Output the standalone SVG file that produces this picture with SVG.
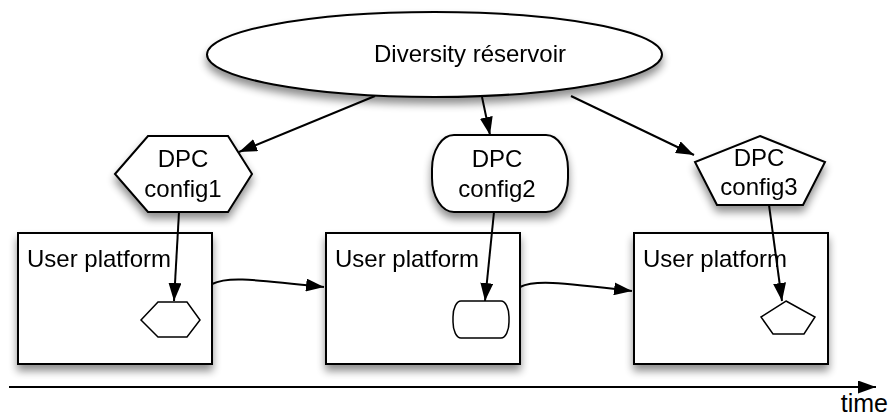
<svg xmlns="http://www.w3.org/2000/svg" width="893" height="419" viewBox="0 0 893 419">
<defs>
<filter id="sh" x="-20%" y="-20%" width="140%" height="150%">
<feGaussianBlur in="SourceAlpha" stdDeviation="4"/>
<feOffset dx="0" dy="6" result="b"/>
<feComponentTransfer><feFuncA type="linear" slope="0.45"/></feComponentTransfer>
<feMerge><feMergeNode/><feMergeNode in="SourceGraphic"/></feMerge>
</filter>
<marker id="ah" viewBox="0 0 18 13" refX="18" refY="6.5" markerWidth="9" markerHeight="6.5" markerUnits="strokeWidth" orient="auto">
<path d="M0,0 L18,6.5 L0,13 z" fill="#000"/>
</marker>
</defs>
<style>
.n{fill:#fff;stroke:#000;stroke-width:2}
.s{fill:#fff;stroke:#000;stroke-width:1.5}
.t{font-family:"Liberation Sans",Arial,sans-serif;font-size:24px;fill:#000}
.c{fill:none;stroke:#000;stroke-width:2;marker-end:url(#ah)}
</style>
<g id="reservoir" filter="url(#sh)">
<ellipse class="n" cx="434.5" cy="54.5" rx="227.5" ry="42.5"/>
<text class="t" x="470" y="62" text-anchor="middle">Diversity réservoir</text>
</g>
<g id="config1" filter="url(#sh)">
<polygon class="n" points="115,174 148,136 228,136 252,174 228,212 148,212"/>
<text class="t" x="183" y="167" text-anchor="middle">DPC</text>
<text class="t" x="183" y="197" text-anchor="middle">config1</text>
</g>
<g id="config2" filter="url(#sh)">
<rect class="n" x="432" y="135" width="136" height="77" rx="22" ry="34"/>
<text class="t" x="497" y="167" text-anchor="middle">DPC</text>
<text class="t" x="497" y="197" text-anchor="middle">config2</text>
</g>
<g id="config3" filter="url(#sh)">
<polygon class="n" points="760,136 825,162 803,205 717,205 695,162"/>
<text class="t" x="759" y="166" text-anchor="middle">DPC</text>
<text class="t" x="759" y="195" text-anchor="middle">config3</text>
</g>
<g id="platform1" filter="url(#sh)">
<rect class="n" x="18" y="233" width="194" height="131"/>
<text class="t" x="27" y="267">User platform</text>
</g>
<g id="platform2" filter="url(#sh)">
<rect class="n" x="326" y="233" width="194" height="131"/>
<text class="t" x="335" y="267">User platform</text>
</g>
<g id="platform3" filter="url(#sh)">
<rect class="n" x="634" y="233" width="194" height="131"/>
<text class="t" x="643" y="267">User platform</text>
</g>
<g id="small1">
<polygon class="s" points="141,320 158,302 187,302 200,320 187,337 158,337"/>
</g>
<g id="small2">
<rect class="s" x="453" y="301" width="56" height="37" rx="8" ry="16"/>
</g>
<g id="small3">
<polygon class="s" points="786,301 815,317 804,334 773,334 761,317"/>
</g>
<g id="connectors">
<line class="c" x1="375" y1="96" x2="239" y2="152"/>
<line class="c" x1="482" y1="97" x2="490" y2="135"/>
<line class="c" x1="571" y1="96" x2="694" y2="155"/>
<line class="c" x1="179" y1="212" x2="174" y2="301"/>
<line class="c" x1="494" y1="212" x2="485" y2="301"/>
<line class="c" x1="769" y1="205" x2="782" y2="301"/>
<path class="c" d="M212,284 C226,277 242,278 324,287"/>
<path class="c" d="M520,287 C534,280 556,282 632,291"/>
<line class="c" x1="9" y1="387" x2="876" y2="387"/>
</g>
<text class="t" x="888" y="412" text-anchor="end" style="font-size:25px">time</text>
</svg>
